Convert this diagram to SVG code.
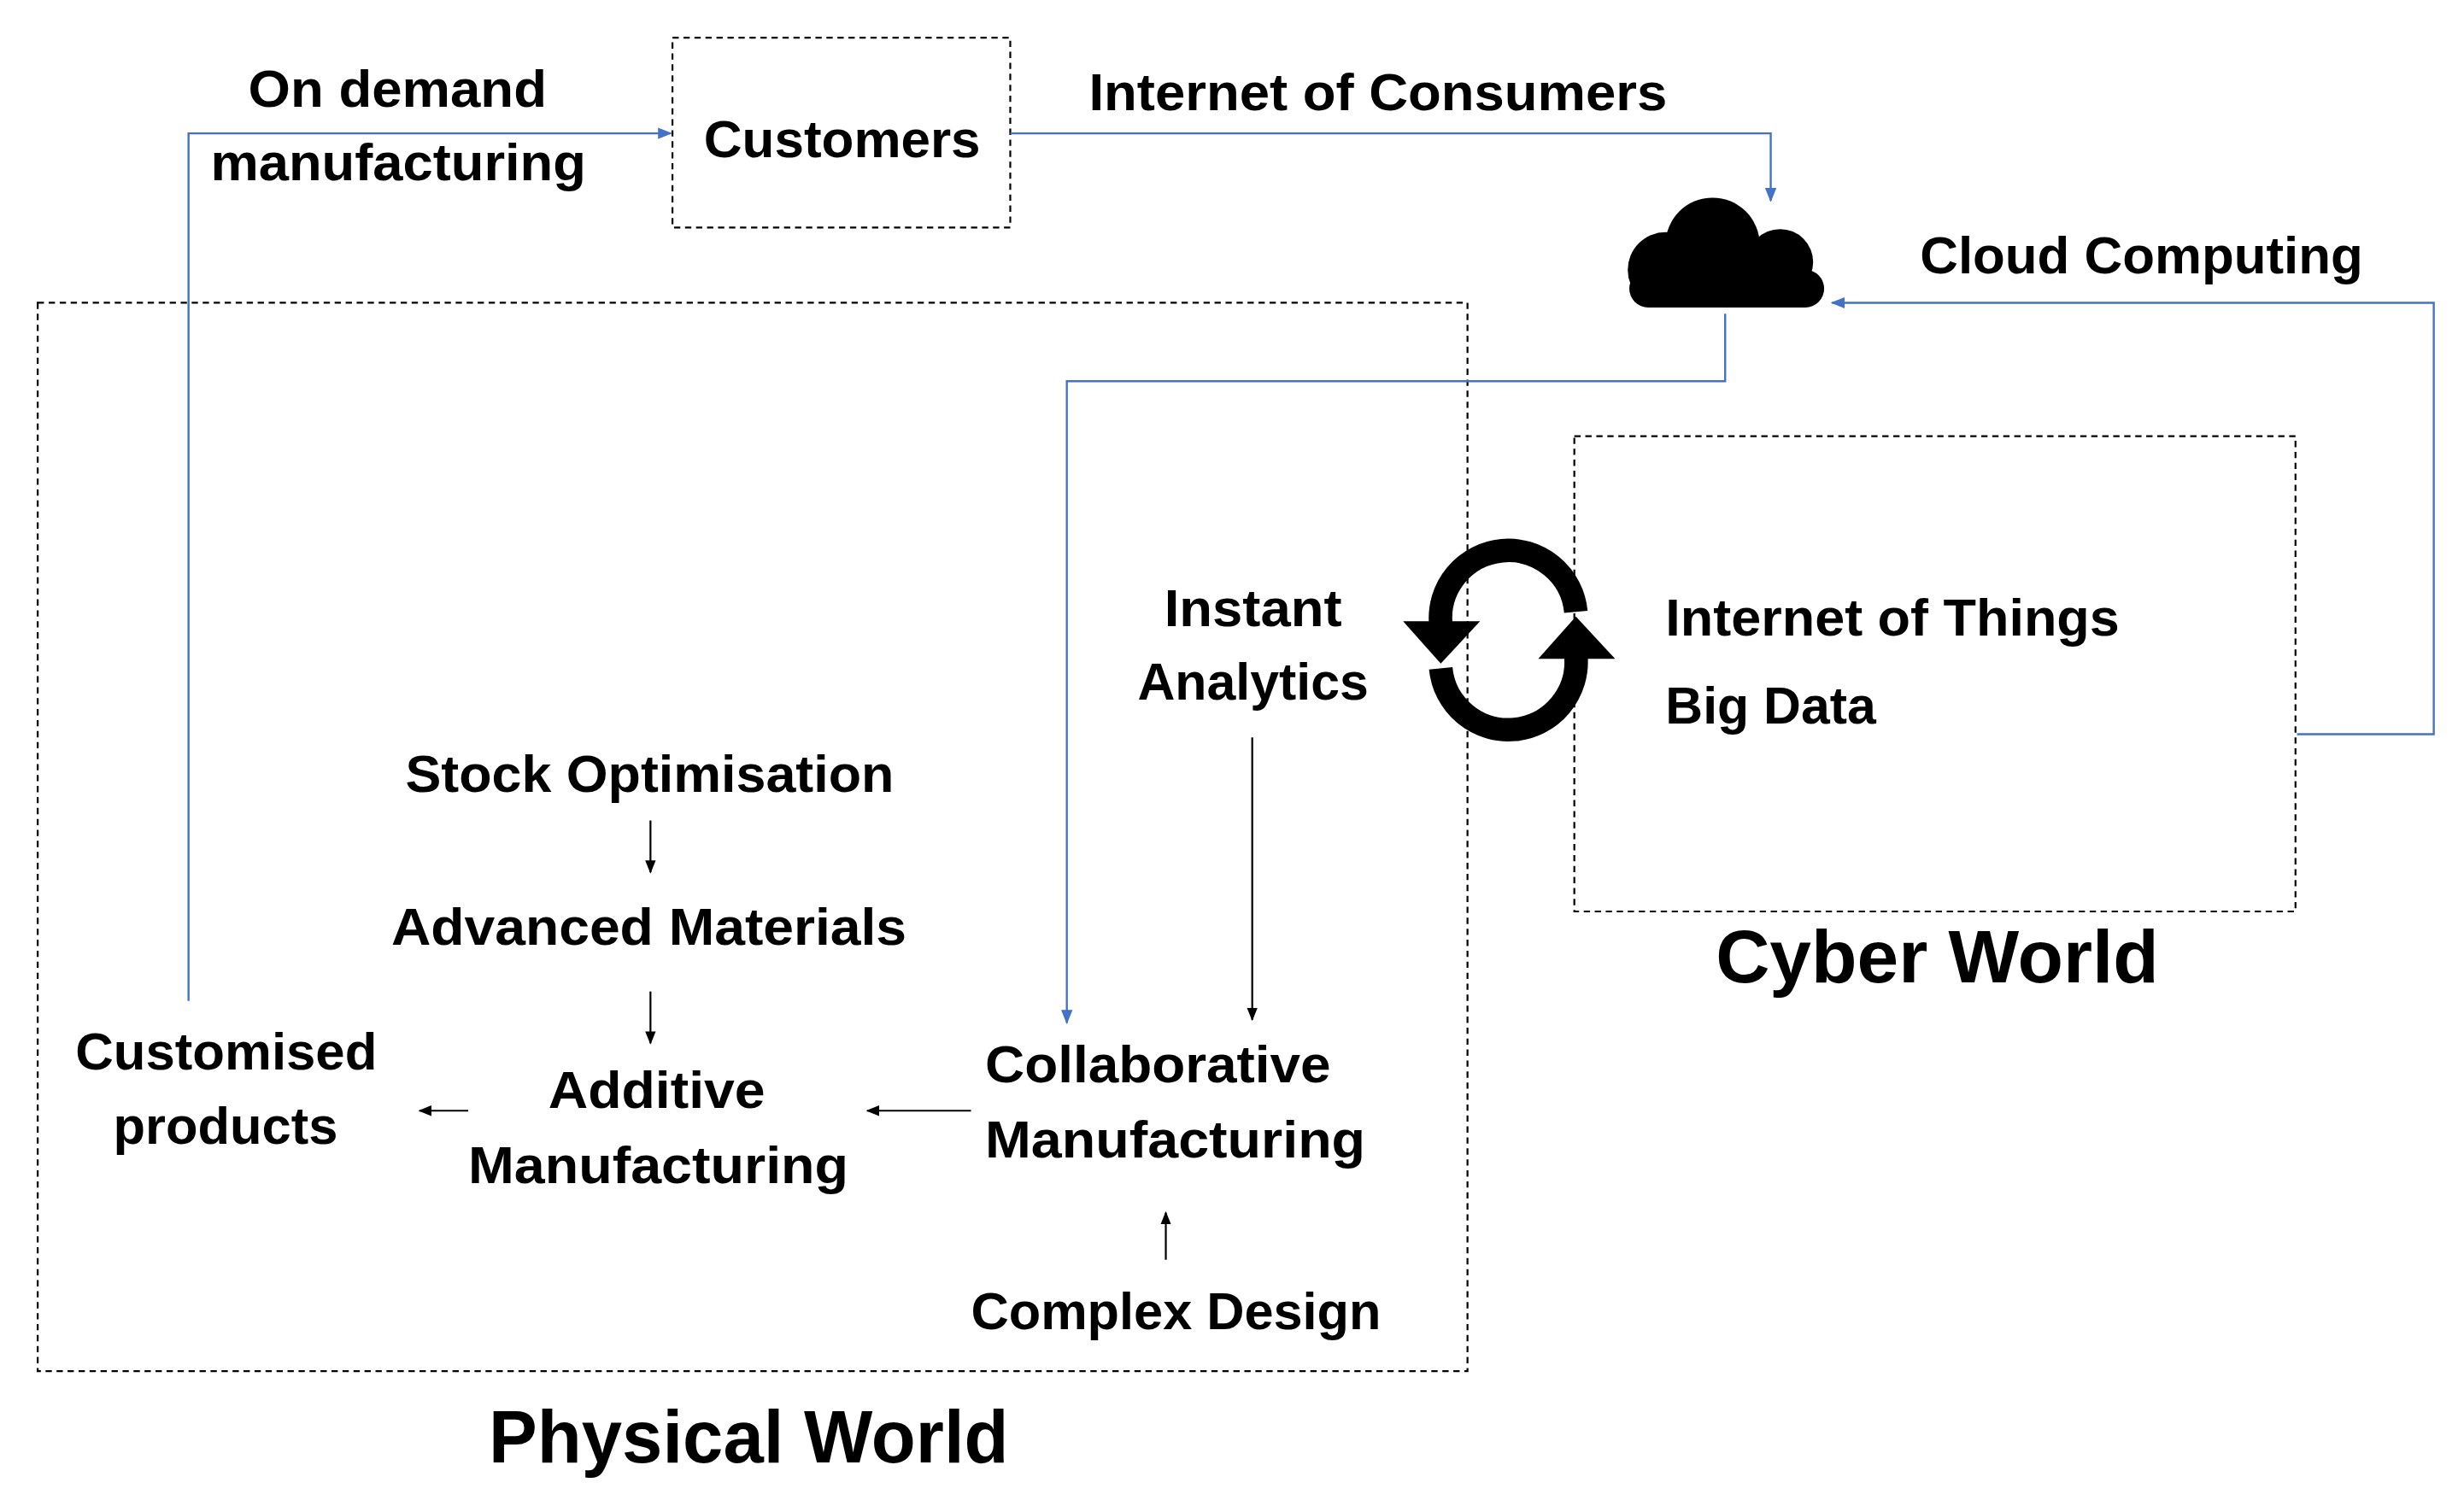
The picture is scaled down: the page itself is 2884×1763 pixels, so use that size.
<svg xmlns="http://www.w3.org/2000/svg" width="2884" height="1763" viewBox="0 0 2884 1763">
<defs>
<style>
.t{font-family:"Liberation Sans",Arial,sans-serif;font-weight:bold;font-size:33px;fill:#000}
.big{font-size:47px}
.box{fill:none;stroke:#000;stroke-width:1.2;stroke-dasharray:4 3}
.blue{fill:none;stroke:#4472C4;stroke-width:1.3}
.blk{fill:none;stroke:#000;stroke-width:1.2}
</style>
<marker id="ab" viewBox="0 0 10 10" refX="9" refY="5" markerWidth="7" markerHeight="7" orient="auto"><path d="M0,1 L10,5 L0,9 z" fill="#4472C4"/></marker>
<marker id="ak" viewBox="0 0 10 10" refX="9" refY="5" markerWidth="7" markerHeight="7" orient="auto"><path d="M0,1 L10,5 L0,9 z" fill="#000"/></marker>
</defs>
<rect width="2884" height="1763" fill="#fff"/>
<g transform="scale(1.839,1.8365)">
<g id="physical"><rect class="box" x="24" y="193" width="910" height="681"/><text class="t big" x="311" y="932" textLength="331" lengthAdjust="spacingAndGlyphs">Physical World</text></g>
<g id="cyber"><rect class="box" x="1002" y="278" width="459" height="303"/><text class="t big" x="1092" y="626" textLength="282" lengthAdjust="spacingAndGlyphs">Cyber World</text>
<text class="t" x="1060" y="405" textLength="289" lengthAdjust="spacingAndGlyphs">Internet of Things</text>
<text class="t" x="1060" y="461" textLength="134" lengthAdjust="spacingAndGlyphs">Big Data</text></g>
<g id="customers"><rect class="box" x="428" y="24" width="215" height="121"/><text class="t" x="448" y="100" textLength="176" lengthAdjust="spacingAndGlyphs">Customers</text></g>
<g id="cloud" fill="#000"><circle cx="1090" cy="156" r="30"/><circle cx="1133" cy="167" r="21"/><circle cx="1060" cy="172" r="24"/><rect x="1060" y="160" width="80" height="36" rx="14"/><rect x="1037" y="172" width="124" height="24" rx="12"/></g>
<g id="sync"><path d="M1003,390 A43 43 0 0 0 917,398" fill="none" stroke="#000" stroke-width="15"/><polygon points="893,396 942,396 917,423" fill="#000"/>
<path d="M917,426 A43 43 0 0 0 1003,418" fill="none" stroke="#000" stroke-width="15"/><polygon points="979,420 1028,420 1003,393" fill="#000"/></g>
<g id="labels">
<text class="t" x="158" y="68" textLength="190" lengthAdjust="spacingAndGlyphs">On demand</text>
<text class="t" x="134" y="115" textLength="239" lengthAdjust="spacingAndGlyphs">manufacturing</text>
<text class="t" x="693" y="70" textLength="368" lengthAdjust="spacingAndGlyphs">Internet of Consumers</text>
<text class="t" x="1222" y="174" textLength="282" lengthAdjust="spacingAndGlyphs">Cloud Computing</text>
</g>
<g id="instant"><text class="t" x="741" y="399" textLength="113" lengthAdjust="spacingAndGlyphs">Instant</text><text class="t" x="724" y="446" textLength="147" lengthAdjust="spacingAndGlyphs">Analytics</text></g>
<g id="stock"><text class="t" x="258" y="505" textLength="311" lengthAdjust="spacingAndGlyphs">Stock Optimisation</text></g>
<g id="advanced"><text class="t" x="249" y="602" textLength="328" lengthAdjust="spacingAndGlyphs">Advanced Materials</text></g>
<g id="additive"><text class="t" x="349" y="706" textLength="138" lengthAdjust="spacingAndGlyphs">Additive</text><text class="t" x="298" y="754" textLength="242" lengthAdjust="spacingAndGlyphs">Manufacturing</text></g>
<g id="collab"><text class="t" x="627" y="690" textLength="220" lengthAdjust="spacingAndGlyphs">Collaborative</text><text class="t" x="627" y="738" textLength="242" lengthAdjust="spacingAndGlyphs">Manufacturing</text></g>
<g id="customised"><text class="t" x="48" y="682" textLength="192" lengthAdjust="spacingAndGlyphs">Customised</text><text class="t" x="72" y="729" textLength="143" lengthAdjust="spacingAndGlyphs">products</text></g>
<g id="complex"><text class="t" x="618" y="847" textLength="261" lengthAdjust="spacingAndGlyphs">Complex Design</text></g>
<g id="connectors">
<path class="blue" d="M120,638 V85 H427" marker-end="url(#ab)"/>
<path class="blue" d="M643,85 H1127 V128" marker-end="url(#ab)"/>
<path class="blue" d="M1462,468 H1549 V193 H1166" marker-end="url(#ab)"/>
<path class="blue" d="M1098,200 V243 H679 V652" marker-end="url(#ab)"/>
<path class="blk" d="M797,470 V650" marker-end="url(#ak)"/>
<path class="blk" d="M414,523 V556" marker-end="url(#ak)"/>
<path class="blk" d="M414,632 V665" marker-end="url(#ak)"/>
<path class="blk" d="M298,708 H267" marker-end="url(#ak)"/>
<path class="blk" d="M618,708 H552" marker-end="url(#ak)"/>
<path class="blk" d="M742,803 V773" marker-end="url(#ak)"/>
</g>
</g>
</svg>
